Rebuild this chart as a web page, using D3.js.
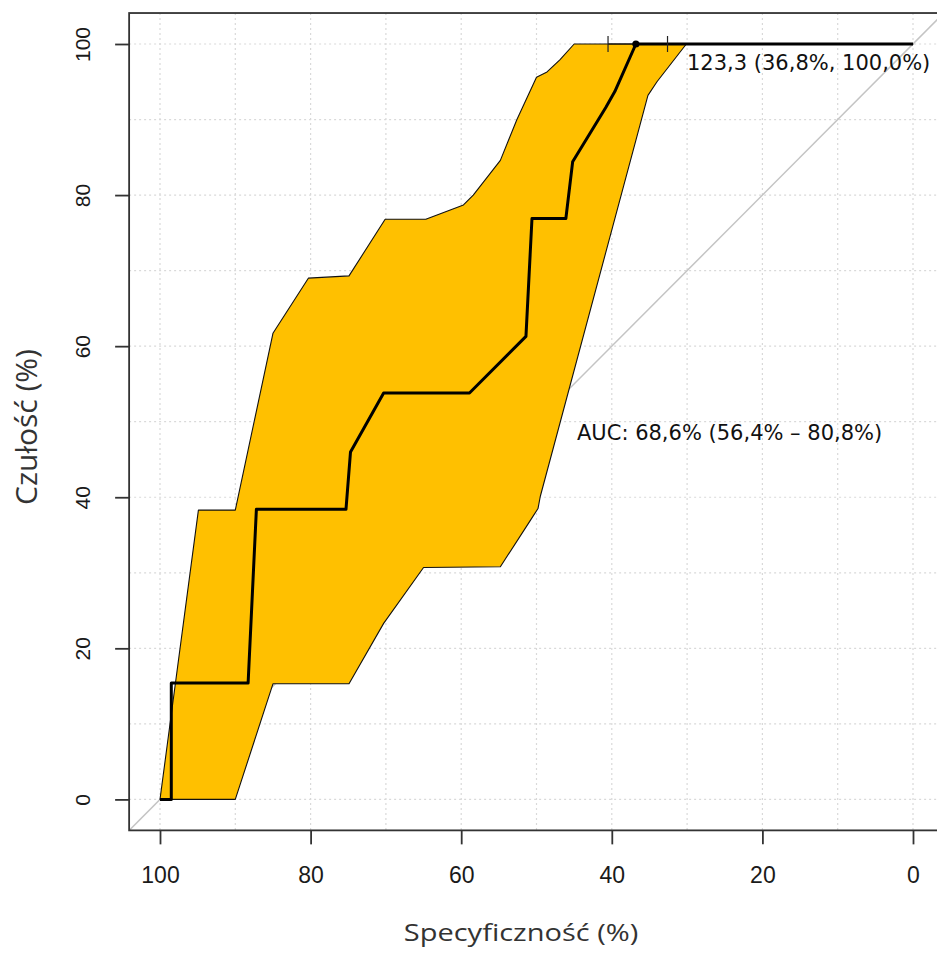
<!DOCTYPE html>
<html>
<head>
<meta charset="utf-8">
<script src="https://cdn.jsdelivr.net/npm/d3@7"></script>
<style>
  html, body { margin: 0; padding: 0; background: #fff; }
  svg { display: block; }
</style>
</head>
<body>
<svg id="chart" width="937" height="954"></svg>
<script>
// ROC curve (specificity %, sensitivity %)
const rocSpec = [100, 98.5, 98.5, 88.3, 87.2, 75.3, 74.7, 70.3, 58.9, 51.4, 50.6, 46.1, 45.2, 40.8, 39.6, 36.8, 0];
const rocSens = [0, 0, 15.4, 15.4, 38.4, 38.4, 46.0, 53.8, 53.8, 61.3, 76.9, 76.9, 84.4, 91.6, 93.7, 100, 100];

// Confidence band of sensitivity: upper bound (spec 100 -> 0)
const ciUpperSpec = [100, 94.9, 90.0, 85.0, 80.3, 74.9, 70.1, 64.7, 59.7, 58.4, 54.8, 52.6, 50.0, 48.6, 46.9, 45.0, 0];
const ciUpperSens = [0, 38.3, 38.3, 61.7, 69.0, 69.3, 76.8, 76.8, 78.7, 80.0, 84.6, 90.0, 95.6, 96.3, 97.9, 100, 100];
// lower bound (spec 0 -> 100)
const ciLowerSpec = [0, 30.1, 34.0, 35.2, 49.5, 49.8, 50.9, 54.8, 65.0, 70.3, 74.9, 85.0, 90.0, 100];
const ciLowerSens = [100, 100, 95.0, 93.2, 40.1, 38.5, 36.8, 30.8, 30.7, 23.3, 15.3, 15.3, 0, 0];

// Best threshold and its specificity CI
const bestThreshold = 123.3;
const bestSpec = 36.8;
const bestSens = 100.0;
const bestSpecCI = [40.5, 32.6];

// Area under the curve with its CI
const auc = 68.6, aucLow = 56.4, aucHigh = 80.8;

// Axis ticks
const specTicks = [100, 80, 60, 40, 20, 0];
const sensTicks = [0, 20, 40, 60, 80, 100];

const xTitle = "Specyficzność (%)";
const yTitle = "Czułość (%)";

const svg = d3.select("#chart");

const x = d3.scaleLinear().domain([100, 0]).range([160, 913]);
const y = d3.scaleLinear().domain([0, 100]).range([799.4, 44]);

// plot region extends 4% beyond the data range, as in base graphics
const region = { s0: 104.1, s1: -4.1, e0: -4.1, e1: 104.1 };
const pLeft = x(region.s0), pRight = x(region.s1), pTop = y(region.e1), pBottom = y(region.e0);

const comma = v => d3.format(".1f")(v).replace(".", ",");

svg.append("defs").append("clipPath").attr("id", "plotClip")
  .append("rect").attr("x", pLeft).attr("y", pTop)
  .attr("width", pRight - pLeft).attr("height", pBottom - pTop);

const plot = svg.append("g").attr("clip-path", "url(#plotClip)");

// grid
const gridVals = d3.range(0, 101, 10);
plot.append("g").selectAll("line").data(gridVals).join("line")
  .attr("x1", d => x(d)).attr("x2", d => x(d))
  .attr("y1", pTop).attr("y2", pBottom)
  .attr("stroke", "#d9d9d9").attr("stroke-width", 1.2).attr("stroke-dasharray", "2,3");
plot.append("g").selectAll("line").data(gridVals).join("line")
  .attr("x1", pLeft).attr("x2", pRight)
  .attr("y1", d => y(d)).attr("y2", d => y(d))
  .attr("stroke", "#d9d9d9").attr("stroke-width", 1.2).attr("stroke-dasharray", "2,3");

// chance diagonal
plot.append("line")
  .attr("x1", x(region.s0)).attr("y1", y(100 - region.s0))
  .attr("x2", x(region.s1)).attr("y2", y(100 - region.s1))
  .attr("stroke", "#c4c4c4").attr("stroke-width", 1.5);

// confidence band
const band = ciUpperSpec.map((s, i) => [s, ciUpperSens[i]])
  .concat(ciLowerSpec.map((s, i) => [s, ciLowerSens[i]]));
const line = d3.line().x(d => x(d[0])).y(d => y(d[1]));
plot.append("path")
  .attr("d", line(band) + "Z")
  .attr("fill", "#FFC000")
  .attr("stroke", "#111").attr("stroke-width", 1.1).attr("stroke-linejoin", "round");

// ROC curve
const roc = rocSpec.map((s, i) => [s, rocSens[i]]);
plot.append("path")
  .attr("d", line(roc))
  .attr("fill", "none")
  .attr("stroke", "#000").attr("stroke-width", 3).attr("stroke-linejoin", "round");

// specificity CI bar at best threshold
plot.append("line")
  .attr("x1", x(bestSpecCI[0])).attr("x2", x(bestSpecCI[1]))
  .attr("y1", y(bestSens)).attr("y2", y(bestSens))
  .attr("stroke", "#000").attr("stroke-width", 1.2);
plot.append("g").selectAll("line").data(bestSpecCI).join("line")
  .attr("x1", d => x(d)).attr("x2", d => x(d))
  .attr("y1", y(bestSens) - 8).attr("y2", y(bestSens) + 8)
  .attr("stroke", "#222").attr("stroke-width", 1.2);

// best threshold point
plot.append("circle")
  .attr("cx", x(bestSpec)).attr("cy", y(bestSens)).attr("r", 3.6)
  .attr("fill", "#000");

// annotations
svg.append("text")
  .attr("x", 687).attr("y", 70)
  .attr("font-family", "DejaVu Sans").attr("font-size", 21).attr("fill", "#111")
  .text(`${comma(bestThreshold)} (${comma(bestSpec)}%, ${comma(bestSens)}%)`);
svg.append("text")
  .attr("x", 577).attr("y", 439.5)
  .attr("font-family", "DejaVu Sans").attr("font-size", 21).attr("fill", "#111")
  .text(`AUC: ${comma(auc)}% (${comma(aucLow)}% \u2013 ${comma(aucHigh)}%)`);

// box
svg.append("rect")
  .attr("x", pLeft).attr("y", pTop).attr("width", pRight - pLeft).attr("height", pBottom - pTop)
  .attr("fill", "none").attr("stroke", "#333").attr("stroke-width", 1.8);

// x axis
const xAxis = svg.append("g").attr("transform", `translate(0,${pBottom})`)
  .call(d3.axisBottom(x).tickValues(specTicks).tickSize(14).tickPadding(22).tickFormat(d3.format("d")));
xAxis.select(".domain").remove();
xAxis.selectAll("line").attr("stroke", "#333").attr("stroke-width", 1.8);
xAxis.selectAll("text").attr("font-family", "Liberation Sans, Arial, sans-serif")
  .attr("font-size", 23).attr("fill", "#1a1a1a");

// y axis with labels parallel to the axis
const yAxis = svg.append("g").attr("transform", `translate(${pLeft},0)`)
  .call(d3.axisLeft(y).tickValues(sensTicks).tickSize(14).tickFormat(d3.format("d")));
yAxis.select(".domain").remove();
yAxis.selectAll("line").attr("stroke", "#333").attr("stroke-width", 1.8);
yAxis.selectAll("text")
  .attr("x", null).attr("dy", null).attr("y", 0)
  .attr("transform", "translate(-39,0) rotate(-90)")
  .attr("text-anchor", "middle")
  .attr("font-family", "Liberation Sans, Arial, sans-serif")
  .attr("font-size", 21).attr("fill", "#1a1a1a");

// axis titles
svg.append("text")
  .attr("transform", "translate(521,941) scale(1,0.8)")
  .attr("text-anchor", "middle")
  .attr("font-family", "Open Sans").attr("font-size", 29).attr("fill", "#333")
  .text(xTitle);
svg.append("text")
  .attr("transform", "translate(37,427) rotate(-90)")
  .attr("text-anchor", "middle")
  .attr("font-family", "Open Sans").attr("font-size", 30).attr("fill", "#333")
  .text(yTitle);
</script>
</body>
</html>
